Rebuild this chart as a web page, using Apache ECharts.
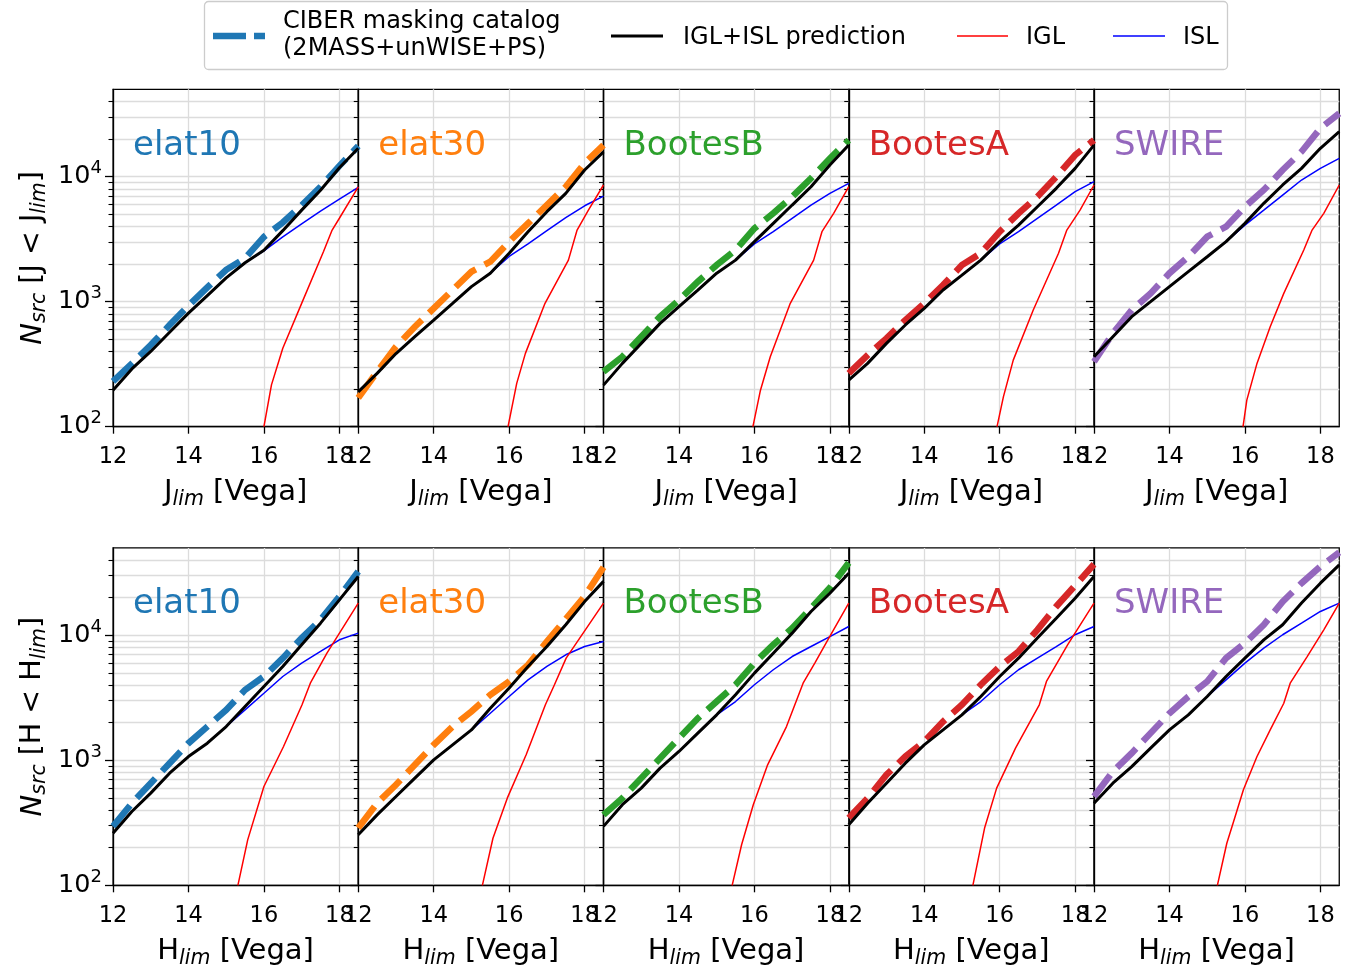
<!DOCTYPE html>
<html>
<head>
<meta charset="utf-8">
<script src="https://cdn.jsdelivr.net/npm/echarts@6/dist/echarts.min.js"></script>
<style>
  html, body { margin: 0; padding: 0; background: #fff; }
  #chart { width: 1363px; height: 970px; }
</style>
</head>
<body>
<div id="chart"></div>
<script>
// Cumulative source counts N(<m_lim) for the five CIBER fields, J and H bands.

const FIELDS = ['elat10', 'elat30', 'BootesB', 'BootesA', 'SWIRE'];
const FIELD_COLORS = ['#1f77b4', '#ff7f0e', '#2ca02c', '#d62728', '#9467bd'];

// limiting magnitudes of the catalog and prediction curves
const MAGS = [12, 12.5, 13, 13.5, 14, 14.5, 15, 15.5, 16, 16.5, 17, 17.5, 18, 18.5];
// limiting magnitudes of the ISL curve (brighter part lies under the total prediction)
const ISL_MAGS = [15, 15.5, 16, 16.5, 17, 17.5, 18, 18.5];

const Y_MAJOR = [100, 1000, 10000];
const Y_MINOR = [200, 300, 400, 500, 600, 700, 800, 900,
                 2000, 3000, 4000, 5000, 6000, 7000, 8000, 9000,
                 20000, 30000, 40000];
const X_TICKS = [12, 14, 16, 18];

// ---- J band ----
const catalogJ = [
  [230, 320, 450, 650, 930, 1300, 1800, 2230, 3300, 4300, 5900, 8300, 12200, 17600],
  [170, 275, 437, 630, 885, 1240, 1740, 2090, 3020, 4230, 5930, 8310, 12800, 17900],
  [276, 363, 525, 759, 1030, 1445, 1965, 2590, 3860, 5100, 6900, 9700, 14000, 19600],
  [267, 374, 509, 713, 970, 1360, 1965, 2440, 3630, 5090, 6920, 10000, 14900, 19600],
  [331, 558, 858, 1165, 1690, 2290, 3310, 3980, 5750, 7820, 11300, 15850, 24400, 32100]
];
const predictionJ = [
  [196, 290, 400, 570, 810, 1120, 1550, 2050, 2580, 3700, 5400, 7800, 11800, 16900],
  [190, 267, 385, 525, 713, 970, 1320, 1690, 2440, 3630, 5250, 7360, 11300, 15800],
  [215, 321, 464, 671, 912, 1240, 1690, 2150, 3020, 4230, 5930, 8310, 12400, 17900],
  [236, 321, 464, 651, 885, 1240, 1630, 2150, 3020, 4100, 5750, 8070, 11650, 17900],
  [363, 525, 759, 1000, 1320, 1740, 2290, 3020, 4230, 6120, 8580, 11650, 16860, 22900]
];
const islJ = [
  [1550, 2050, 2550, 3300, 4200, 5300, 6600, 8200],
  [1320, 1690, 2300, 2900, 3700, 4700, 5850, 7000],
  [1690, 2150, 2900, 3630, 4640, 5930, 7360, 8850],
  [1630, 2150, 2900, 3630, 4640, 5930, 7590, 9120],
  [2290, 3020, 4100, 5400, 7130, 9400, 11650, 14000]
];
const iglJ = [
  [[16.0, 100], [16.2, 216], [16.5, 424], [17.0, 970], [17.58, 2520], [17.8, 3700], [18.0, 4650], [18.5, 8300]],
  [[15.97, 100], [16.2, 222], [16.43, 386], [16.95, 970], [17.57, 2150], [17.8, 3740], [18.1, 5400], [18.5, 8580]],
  [[15.96, 100], [16.16, 196], [16.42, 363], [16.95, 970], [17.57, 2150], [17.79, 3630], [18.1, 5090], [18.5, 8310]],
  [[15.93, 100], [16.1, 174], [16.36, 341], [16.89, 858], [17.56, 2440], [17.78, 3740], [18.13, 5400], [18.5, 8580]],
  [[15.95, 100], [16.05, 163], [16.32, 321], [16.67, 631], [17.03, 1165], [17.56, 2590], [17.78, 3740], [18.09, 5090], [18.5, 8580]]
];

// ---- H band ----
const catalogH = [
  [296, 454, 656, 948, 1370, 1860, 2530, 3660, 4680, 6560, 9500, 13300, 20400, 32400],
  [287, 454, 637, 920, 1330, 1860, 2460, 3340, 4270, 5800, 8900, 13500, 20500, 35000],
  [366, 498, 720, 1040, 1500, 2170, 2950, 4020, 6000, 8400, 11400, 16500, 24000, 38000],
  [345, 498, 766, 1072, 1410, 2040, 2780, 4020, 5630, 7420, 11060, 17000, 25000, 37000],
  [513, 813, 1140, 1650, 2380, 3240, 4270, 6560, 8650, 12140, 18600, 26100, 35500, 46000]
];
const predictionH = [
  [261, 389, 546, 789, 1072, 1371, 1862, 2690, 3890, 5620, 8390, 12500, 19200, 29500],
  [254, 366, 513, 720, 1009, 1330, 1750, 2610, 3780, 5630, 8130, 12140, 18600, 27000],
  [296, 441, 599, 866, 1176, 1650, 2310, 3340, 4980, 7190, 10400, 15500, 21700, 31400],
  [305, 454, 656, 948, 1330, 1750, 2310, 3240, 4680, 6560, 9500, 13700, 19800, 29500],
  [454, 656, 891, 1250, 1750, 2310, 3240, 4680, 6560, 9200, 12140, 18100, 26100, 36600]
];
const islH = [
  [1862, 2530, 3440, 4680, 5990, 7420, 9200, 10400],
  [1750, 2380, 3240, 4400, 5630, 6980, 8130, 8910],
  [2310, 2950, 4020, 5300, 6760, 8130, 9770, 11750],
  [2310, 2950, 4020, 5300, 6560, 8130, 10100, 11750],
  [3240, 4400, 5990, 7890, 10100, 12500, 15500, 18100]
];
const iglH = [
  [[15.31, 100], [15.57, 231], [16.0, 617], [16.52, 1290], [17.01, 2780], [17.23, 4140], [17.67, 7190], [18.5, 18100]],
  [[15.29, 100], [15.57, 238], [15.95, 498], [16.45, 1107], [16.96, 2780], [17.2, 4020], [17.51, 6560], [18.5, 18100]],
  [[15.41, 100], [15.66, 211], [15.97, 441], [16.35, 920], [16.85, 1860], [17.29, 4140], [17.6, 5990], [17.92, 8910], [18.5, 18100]],
  [[15.29, 100], [15.6, 287], [15.92, 599], [16.42, 1250], [17.05, 2780], [17.24, 4270], [17.8, 8390], [18.5, 18100]],
  [[15.27, 100], [15.52, 217], [15.7, 324], [15.96, 581], [16.32, 1072], [16.67, 1750], [17.03, 2860], [17.2, 4140], [17.65, 6760], [18.09, 11060], [18.5, 18100]]
];

const BANDS = [
  { letter: 'J', catalog: catalogJ, prediction: predictionJ, isl: islJ, igl: iglJ },
  { letter: 'H', catalog: catalogH, prediction: predictionH, isl: islH, igl: iglH }
];

// ---- layout ----
const FONT = 'DejaVu Sans';
const GRID_COLOR = '#dcdcdc';
const PANEL_LEFT = 113;
const PANEL_W = 245.25;
const PANEL_H = 337.4;
const ROW_TOP = [89.3, 547.9];

const pair = (xs, ys) => xs.map((x, i) => [x, ys[i]]);

function yTickLabel(v) {
  const e = Math.log10(v);
  if (Math.abs(e - Math.round(e)) > 1e-6) return '';
  return '{b|10}{sup|' + Math.round(e) + '}';
}

const nameRich = {
  it: { fontStyle: 'italic', fontSize: 29, fontFamily: FONT, lineHeight: 34, color: '#000' },
  isub: { fontStyle: 'italic', fontSize: 20.5, fontFamily: FONT, lineHeight: 14, verticalAlign: 'bottom', color: '#000' }
};

const grids = [], xAxes = [], yAxes = [], series = [], titles = [];

BANDS.forEach((band, r) => {
  FIELDS.forEach((field, c) => {
    const p = r * FIELDS.length + c;
    grids.push({
      left: PANEL_LEFT + c * PANEL_W, top: ROW_TOP[r], width: PANEL_W, height: PANEL_H,
      show: true, borderColor: '#000', borderWidth: 1.3, backgroundColor: 'transparent'
    });
    xAxes.push({
      gridIndex: p, type: 'value', min: 12, max: 18.5, interval: 2,
      axisLine: { show: true, onZero: false, lineStyle: { color: '#000', width: 1.3 } },
      axisTick: { show: true, length: 7, customValues: X_TICKS, lineStyle: { color: '#000', width: 1.3 } },
      axisLabel: { fontSize: 22.5, fontFamily: FONT, color: '#000', margin: 19,
                   customValues: X_TICKS, showMaxLabel: true, showMinLabel: true },
      splitLine: { show: true, lineStyle: { color: GRID_COLOR, width: 1.3 } },
      name: band.letter + '{isub|lim} [Vega]', nameLocation: 'middle', nameGap: 49,
      nameTextStyle: { fontSize: 29, fontFamily: FONT, color: '#000', lineHeight: 34, rich: nameRich }
    });
    // main log axis: decades, labels, major grid
    yAxes.push({
      gridIndex: p, type: 'log', logBase: 10, min: 100, max: 50000, position: 'left',
      axisLine: { show: true, lineStyle: { color: '#000', width: 1.3 } },
      axisTick: { show: true, length: 8, customValues: Y_MAJOR, lineStyle: { color: '#000', width: 1.3 } },
      axisLabel: {
        show: c === 0, margin: 11, customValues: Y_MAJOR, formatter: yTickLabel,
        rich: {
          b: { fontSize: 25.5, fontFamily: FONT, color: '#000', lineHeight: 34 },
          sup: { fontSize: 18, fontFamily: FONT, color: '#000', lineHeight: 16, verticalAlign: 'top' }
        }
      },
      splitLine: { show: true, lineStyle: { color: GRID_COLOR, width: 1.3 } },
      name: c === 0 ? '{it|N}{isub|src} [' + band.letter + ' < ' + band.letter + '{isub|lim}]' : '',
      nameLocation: 'middle', nameRotate: 90, nameGap: 63,
      nameTextStyle: { fontSize: 28.5, fontFamily: FONT, color: '#000', lineHeight: 34, rich: nameRich }
    });
    // companion log axis: minor ticks and minor grid
    yAxes.push({
      gridIndex: p, type: 'log', logBase: 10, min: 100, max: 50000, position: 'left',
      axisLine: { show: false },
      axisTick: { show: true, length: 4.5, customValues: Y_MINOR, lineStyle: { color: '#000', width: 1.1 } },
      axisLabel: { show: false },
      splitLine: { show: true, lineStyle: { color: GRID_COLOR, width: 1.3 } }
    });

    const common = { xAxisIndex: p, yAxisIndex: 2 * p, type: 'line', showSymbol: false,
                     symbol: 'none', silent: true, animation: false };
    series.push(Object.assign({}, common, {
      name: 'CIBER masking catalog', z: 2,
      data: pair(MAGS, band.catalog[c]),
      lineStyle: { color: FIELD_COLORS[c], width: 6.5, type: [27, 10], cap: 'butt', join: 'miter' }
    }));
    series.push(Object.assign({}, common, {
      name: 'ISL', z: 3,
      data: pair(ISL_MAGS, band.isl[c]),
      lineStyle: { color: '#0000ff', width: 1.5 }
    }));
    series.push(Object.assign({}, common, {
      name: 'IGL', z: 3,
      data: band.igl[c],
      lineStyle: { color: '#ff0000', width: 1.5 }
    }));
    series.push(Object.assign({}, common, {
      name: 'IGL+ISL prediction', z: 4,
      data: pair(MAGS, band.prediction[c]),
      lineStyle: { color: '#000', width: 3 }
    }));

    titles.push({
      text: field, left: PANEL_LEFT + c * PANEL_W + 20, top: ROW_TOP[r] + 39.5, padding: 0,
      textStyle: { color: FIELD_COLORS[c], fontSize: 34, fontWeight: 'normal', fontFamily: FONT }
    });
  });
});

// legend drawn as a framed strip above the panels
const LEG_Y = 36;
const LEG_TEXT_Y = 37.5;
const LEG_FONT = 24;
const legendGraphic = {
  type: 'group', silent: true, z: 100,
  children: [
    { type: 'rect', shape: { x: 204.5, y: 1.5, width: 1023, height: 68, r: 4 },
      style: { fill: '#fff', stroke: '#cccccc', lineWidth: 1.3 } },
    { type: 'line', shape: { x1: 213, y1: LEG_Y, x2: 265, y2: LEG_Y },
      style: { stroke: FIELD_COLORS[0], lineWidth: 6.5, lineDash: [33, 8], lineCap: 'butt' } },
    { type: 'text', style: { x: 283, y: 35.5, text: 'CIBER masking catalog\n(2MASS+unWISE+PS)',
      fill: '#000', fontSize: LEG_FONT, fontFamily: FONT, lineHeight: 27, verticalAlign: 'middle', align: 'left' } },
    { type: 'line', shape: { x1: 611, y1: LEG_Y, x2: 663, y2: LEG_Y },
      style: { stroke: '#000', lineWidth: 3 } },
    { type: 'text', style: { x: 683, y: LEG_TEXT_Y, text: 'IGL+ISL prediction',
      fill: '#000', fontSize: LEG_FONT, fontFamily: FONT, verticalAlign: 'middle', align: 'left' } },
    { type: 'line', shape: { x1: 957, y1: LEG_Y, x2: 1008, y2: LEG_Y },
      style: { stroke: '#ff0000', lineWidth: 1.5 } },
    { type: 'text', style: { x: 1026, y: LEG_TEXT_Y, text: 'IGL',
      fill: '#000', fontSize: LEG_FONT, fontFamily: FONT, verticalAlign: 'middle', align: 'left' } },
    { type: 'line', shape: { x1: 1113, y1: LEG_Y, x2: 1165, y2: LEG_Y },
      style: { stroke: '#0000ff', lineWidth: 1.5 } },
    { type: 'text', style: { x: 1183, y: LEG_TEXT_Y, text: 'ISL',
      fill: '#000', fontSize: LEG_FONT, fontFamily: FONT, verticalAlign: 'middle', align: 'left' } }
  ]
};

const chart = echarts.init(document.getElementById('chart'), null, { renderer: 'canvas' });
chart.setOption({
  animation: false,
  backgroundColor: '#fff',
  textStyle: { fontFamily: FONT },
  title: titles,
  grid: grids,
  xAxis: xAxes,
  yAxis: yAxes,
  series: series,
  graphic: [legendGraphic]
});
</script>
</body>
</html>
